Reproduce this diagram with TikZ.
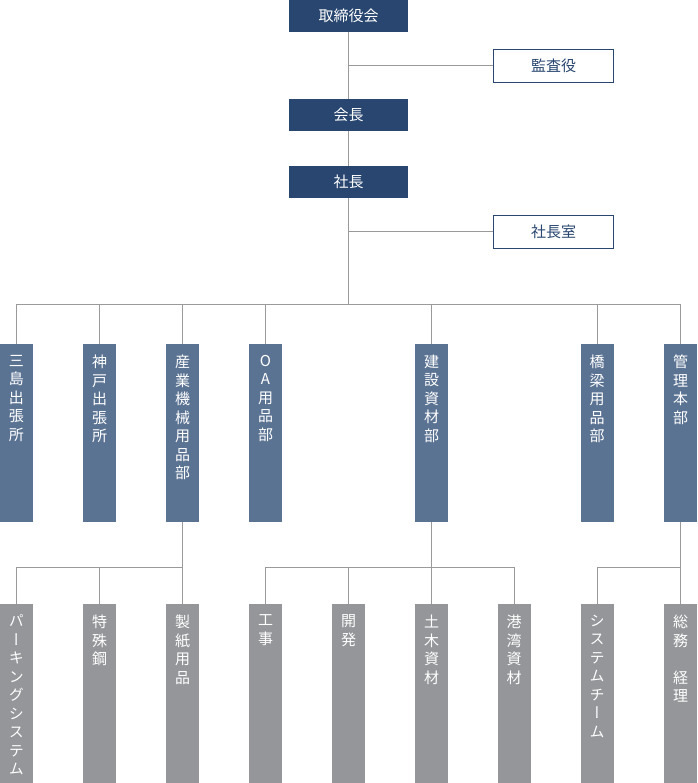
\documentclass[tikz,border=0pt]{standalone}
\usepackage{fontspec}
\setmainfont{Noto Sans CJK JP}
\newfontfamily\tatefont[RawFeature=+vert]{Noto Sans CJK JP}
\usetikzlibrary{positioning}

\definecolor{navy}{HTML}{284670}
\definecolor{deptblue}{HTML}{5B7393}
\definecolor{secgray}{HTML}{949699}
\definecolor{linegray}{HTML}{9A9A9A}

% 縦書きの箱
\newcommand{\tatebox}[2]{\parbox[c][#1][t]{33pt}{\centering\tatefont\fontsize{15}{18.5}\selectfont\vspace*{11pt}#2}}

\tikzset{
	topbox/.style={fill=navy, text=white, minimum width=119pt, minimum height=32pt, inner sep=0pt, font=\fontsize{15}{18}\selectfont},
	subbox/.style={draw=navy, fill=white, text=navy, line width=1pt, minimum width=120pt, minimum height=33pt, inner sep=0pt, font=\fontsize{15}{18}\selectfont},
	deptbox/.style={fill=deptblue, text=white, inner sep=0pt},
	secbox/.style={fill=secgray, text=white, inner sep=0pt},
	conn/.style={draw=linegray, line width=1pt}
}

\begin{document}
\begin{tikzpicture}[x=1pt, y=-1pt]
	\useasboundingbox (0,0) rectangle (697,783);

	% 経営
	\node[topbox] (torishimari) at (348.5,16) {取締役会};
	\node[topbox] (kaicho) at (348.5,115) {会長};
	\node[topbox] (shacho) at (348.5,182) {社長};
	\node[subbox] (kansa) at (553.5,66) {監査役};
	\node[subbox] (shachoshitsu) at (553.5,232) {社長室};

	\coordinate (bus) at (348.5,304);

	% 部・出張所
	\foreach \n/\x/\lab in {mishima/16.5/{三\\島\\出\\張\\所}, kobe/99.5/{神\\戸\\出\\張\\所}, sangyo/182.5/{産\\業\\機\\械\\用\\品\\部}, oa/265.5/{O\\A\\用\\品\\部}, kensetsu/431.5/{建\\設\\資\\材\\部}, kyoryo/597/{橋\\梁\\用\\品\\部}, kanri/680.5/{管\\理\\本\\部}} {
		\node[deptbox] (\n) at (\x,433) {\tatebox{178pt}{\lab}};
	}

	% 課
	\foreach \n/\x/\lab in {parking/16.5/{パ\\ー\\キ\\ン\\グ\\シ\\ス\\テ\\ム}, tokushu/99.5/{特\\殊\\鋼}, seishi/182.5/{製\\紙\\用\\品}, koji/265.5/{工\\事}, kaihatsu/348.5/{開\\発}, doboku/431.5/{土\\木\\資\\材}, kowan/514/{港\\湾\\資\\材}, system/597/{シ\\ス\\テ\\ム\\チ\\ー\\ム}, somu/680.5/{総\\務\\　\\経\\理}} {
		\node[secbox] (\n) at (\x,693.5) {\tatebox{179pt}{\lab}};
	}

	% 線
	\draw[conn] (torishimari) -- (kaicho);
	\draw[conn] (kaicho) -- (shacho);
	\draw[conn] (shacho) -- (bus);
	\draw[conn] (kansa.west) -- (kansa.west -| torishimari);
	\draw[conn] (shachoshitsu.west) -- (shachoshitsu.west -| shacho);
	\draw[conn] (bus -| mishima) -- (bus -| kanri);
	\foreach \n in {mishima, kobe, sangyo, oa, kensetsu, kyoryo, kanri}
		\draw[conn] (bus -| \n) -- (\n.north);

	\coordinate (bus1) at (182.5,567);
	\coordinate (bus2) at (431.5,567);
	\coordinate (bus3) at (680.5,567);
	\draw[conn] (sangyo.south) -- (bus1);
	\draw[conn] (kensetsu.south) -- (bus2);
	\draw[conn] (kanri.south) -- (bus3);
	\draw[conn] (bus1 -| parking) -- (bus1);
	\draw[conn] (bus2 -| koji) -- (bus2 -| kowan);
	\draw[conn] (bus3 -| system) -- (bus3);
	\foreach \n/\b in {parking/bus1, tokushu/bus1, seishi/bus1, koji/bus2, kaihatsu/bus2, doboku/bus2, kowan/bus2, system/bus3, somu/bus3}
		\draw[conn] (\b -| \n) -- (\n.north);
\end{tikzpicture}
\end{document}
